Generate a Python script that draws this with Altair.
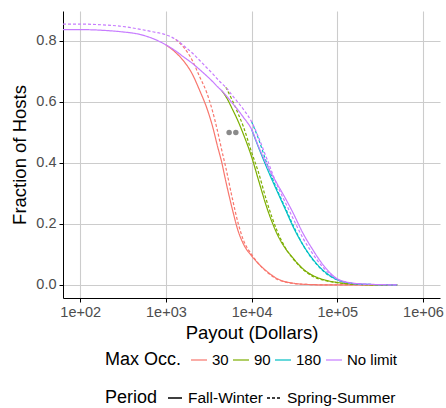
import altair as alt
import pandas as pd

# Payout grid (dollars); each curve uses the tail of this grid it covers
payout = [63, 100, 200, 300, 500, 700, 1000, 1300, 1600, 2000, 2500, 3000, 3500,
          4000, 4500, 5000, 6000, 7000, 8000, 10000, 12000, 15000, 20000, 25000,
          30000, 40000, 50000, 70000, 100000, 150000, 200000, 300000, 500000]

# Fraction of hosts earning more than the payout, by max occupancy and period.
# The capped curves coincide with "No limit" at low payouts, so they start
# where they leave it.
fw_nolimit = [0.837, 0.837, 0.834, 0.830, 0.821, 0.808, 0.787, 0.767, 0.748, 0.728, 0.705,
              0.685, 0.667, 0.650, 0.636, 0.622, 0.595, 0.572, 0.550, 0.510, 0.455, 0.395,
              0.330, 0.282, 0.240, 0.168, 0.122, 0.062, 0.020, 0.006, 0.003, 0.001, 0.0]
ss_nolimit = [0.855, 0.855, 0.852, 0.848, 0.838, 0.830, 0.820, 0.805, 0.785, 0.762, 0.735,
              0.712, 0.693, 0.675, 0.660, 0.648, 0.620, 0.597, 0.576, 0.535, 0.485, 0.415,
              0.325, 0.268, 0.222, 0.152, 0.108, 0.054, 0.018, 0.005, 0.002, 0.001, 0.0]
fw_30 = [0.787, 0.762, 0.735, 0.695, 0.635,
         0.580, 0.520, 0.455, 0.400, 0.340, 0.245, 0.175, 0.135, 0.095, 0.070, 0.045,
         0.020, 0.010, 0.006, 0.002, 0.001, 0.0, 0.0, 0.0, 0.0, 0.0, 0.0]
ss_30 = [0.805, 0.780, 0.740, 0.680,
         0.630, 0.570, 0.505, 0.440, 0.385, 0.280, 0.200, 0.148, 0.100, 0.070, 0.043,
         0.018, 0.009, 0.005, 0.002, 0.001, 0.0, 0.0, 0.0, 0.0, 0.0, 0.0]
fw_90 = [0.636, 0.618, 0.575, 0.535, 0.495, 0.420, 0.345, 0.255,
         0.165, 0.118, 0.090, 0.052, 0.033, 0.017, 0.008, 0.003, 0.001, 0.0, 0.0]
ss_90 = [0.648, 0.603, 0.560, 0.520, 0.435, 0.370, 0.275,
         0.175, 0.120, 0.088, 0.050, 0.030, 0.015, 0.007, 0.002, 0.001, 0.0, 0.0]
fw_180 = [0.510, 0.452, 0.385,
          0.305, 0.245, 0.195, 0.130, 0.090, 0.045, 0.017, 0.005, 0.002, 0.001, 0.0]
ss_180 = [0.535, 0.480, 0.400,
          0.310, 0.250, 0.200, 0.130, 0.088, 0.043, 0.016, 0.005, 0.002, 0.001, 0.0]

occ_levels = ["30", "90", "180", "No limit"]
occ_colors = ["#F8766D", "#7CAE00", "#00BFC4", "#C77CFF"]
periods = ["Fall-Winter", "Spring-Summer"]

# Median payouts (fraction = 0.5) for the two periods
median_payout = [5470, 6550]
median_frac = [0.5, 0.5]

series = {
    "30": (fw_30, ss_30),
    "90": (fw_90, ss_90),
    "180": (fw_180, ss_180),
    "No limit": (fw_nolimit, ss_nolimit),
}


def curve_frame(occ):
    rows = []
    for period, vals in zip(periods, series[occ]):
        xs = payout[len(payout) - len(vals):]
        for i, (p, v) in enumerate(zip(xs, vals)):
            rows.append({"payout": p, "fraction": v, "occ": occ,
                         "period": period, "idx": i})
    return pd.DataFrame(rows)


medians = pd.DataFrame({"payout": median_payout, "fraction": median_frac})

FONT = "Liberation Sans"

x_enc = alt.X("payout:Q",
              scale=alt.Scale(type="log", domain=[63, 1.58e6], nice=False),
              axis=alt.Axis(values=[100, 1000, 10000, 100000, 1000000],
                            labelExpr="'1e+0' + round(log(datum.value) / LN10)",
                            title="Payout (Dollars)"))
y_enc = alt.Y("fraction:Q",
              scale=alt.Scale(domain=[-0.043, 0.898], nice=False, zero=False),
              axis=alt.Axis(values=[0, 0.2, 0.4, 0.6, 0.8], format=".1f",
                            title="Fraction of Hosts"))

color_enc = alt.Color(
    "occ:N", sort=occ_levels,
    scale=alt.Scale(domain=occ_levels, range=occ_colors),
    legend=alt.Legend(title="Max Occ.", orient="none", legendX=42, legendY=340,
                      direction="horizontal", titleOrient="left", gridAlign="none",
                      symbolType="stroke", symbolSize=256, symbolStrokeWidth=1.6,
                      symbolOpacity=0.75, labelFontSize=15, titleFontSize=18,
                      titleFontWeight="normal", columnPadding=0, labelOffset=4,
                      titlePadding=8))
dash_enc = alt.StrokeDash(
    "period:N", sort=periods,
    scale=alt.Scale(domain=periods, range=[[1, 0], [3, 2]]),
    legend=alt.Legend(title="Period", orient="none", legendX=42, legendY=379,
                      direction="horizontal", titleOrient="left", gridAlign="none",
                      symbolType="stroke", symbolSize=196, symbolStrokeWidth=1.4,
                      symbolStrokeColor="black", labelFontSize=15.5,
                      titleFontSize=18, titleFontWeight="normal",
                      columnPadding=1, labelOffset=5, titlePadding=9))

# One layer per occupancy cap so that "No limit" is painted last
line_layers = [
    alt.Chart(curve_frame(occ)).mark_line(strokeWidth=1.2, clip=True,
                                          interpolate="monotone").encode(
        x=x_enc, y=y_enc, color=color_enc, strokeDash=dash_enc, order="idx:Q")
    for occ in occ_levels
]

points = alt.Chart(medians).mark_circle(size=30, color="#8a8a8a", opacity=1).encode(
    x="payout:Q",
    y="fraction:Q",
)

chart = alt.layer(*line_layers, points).properties(
    width=377, height=287,
    autosize=alt.AutoSizeParams(type="none"),
    padding={"left": 63, "top": 11, "right": 6, "bottom": 110},
).configure_view(stroke=None).configure_axis(
    labelFont=FONT, titleFont=FONT, labelFontSize=14.5, titleFontSize=18.5,
    labelColor="#4D4D4D", titleColor="black", titleFontWeight="normal",
    gridColor="#CCCCCC", gridWidth=1.1, domainColor="black", domainWidth=1,
    tickColor="black", tickSize=4, labelPadding=3,
).configure_axisX(titlePadding=5).configure_axisY(titlePadding=6).configure_legend(
    labelFont=FONT, titleFont=FONT, labelColor="black", titleColor="black",
)

chart.save("out.html", embed_options={"renderer": "svg", "actions": False})
